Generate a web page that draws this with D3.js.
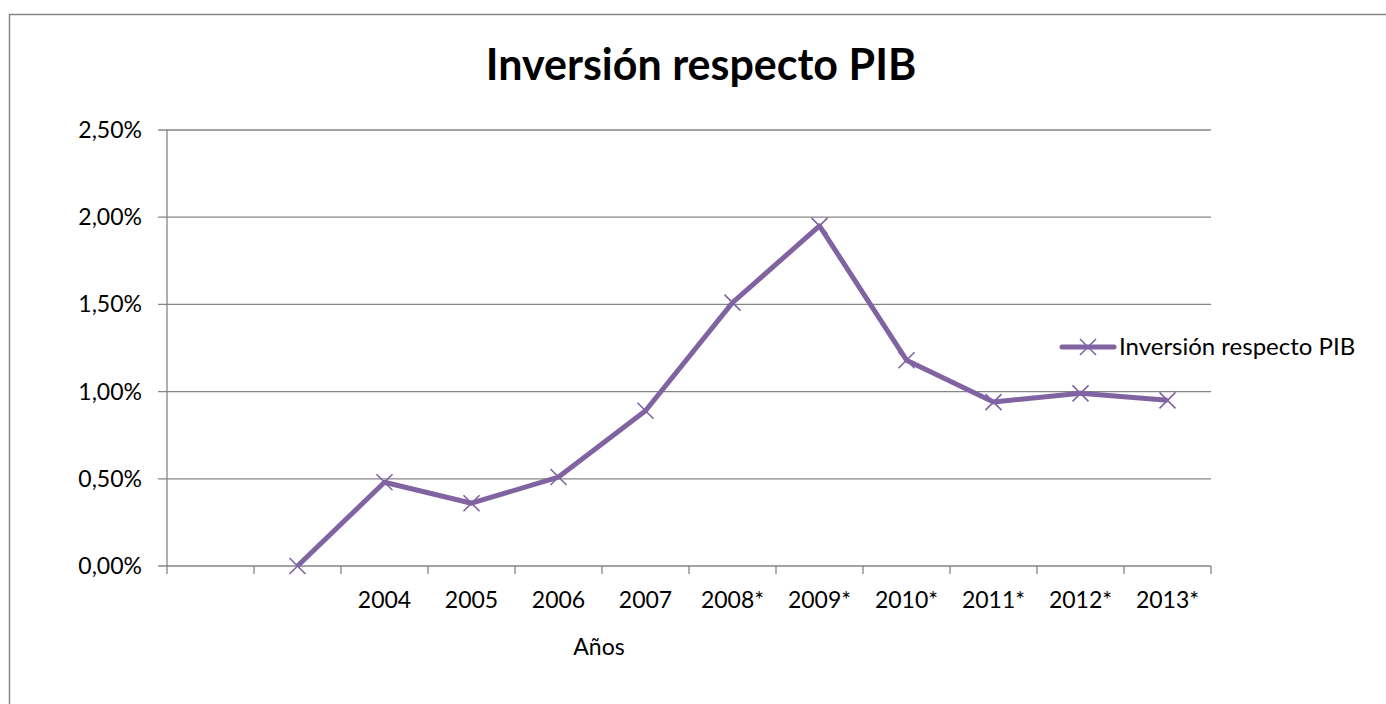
<!DOCTYPE html>
<html>
<head>
<meta charset="utf-8">
<script src="https://cdn.jsdelivr.net/npm/d3@7"></script>
<style>
  body { margin: 0; background: #fff; }
  text { font-family: Lato, "Open Sans", sans-serif; fill: #000; }
</style>
</head>
<body>
<svg id="chart" width="1386" height="704"></svg>
<script>
// data
var slots      = [0, 1, 2, 3, 4, 5, 6, 7, 8, 9, 10, 11];
var tickLabels = ["", "", "2004", "2005", "2006", "2007", "2008*", "2009*", "2010*", "2011*", "2012*", "2013*"];
var values     = [null, 0.0, 0.48, 0.36, 0.51, 0.89, 1.51, 1.95, 1.18, 0.94, 0.99, 0.95];
var yTicks     = [0, 0.5, 1.0, 1.5, 2.0, 2.5];
var seriesName = "Inversión respecto PIB";

var purple = "#8064a2", grey = "#868686";
var svg = d3.select("#chart");

// outer chart border
svg.append("rect")
  .attr("x", 9.5).attr("y", 14.5)
  .attr("width", 1400).attr("height", 720)
  .attr("fill", "none").attr("stroke", grey).attr("stroke-width", 1.5);

var plotL = 167, plotR = 1211, plotT = 130, plotB = 566;

var x = d3.scaleBand().domain(slots).range([plotL, plotR]).padding(0);
var y = d3.scaleLinear().domain([0, 2.5]).range([plotB, plotT]);

var fmt = function(d) { return d.toFixed(2).replace(".", ",") + "%"; };

// gridlines
svg.append("g").selectAll("line")
  .data(yTicks).enter().append("line")
    .attr("x1", plotL - 9).attr("x2", plotR)
    .attr("y1", function(d) { return y(d); })
    .attr("y2", function(d) { return y(d); })
    .attr("stroke", grey).attr("stroke-width", 1.3);

// y axis line + labels
svg.append("line")
  .attr("x1", plotL).attr("x2", plotL).attr("y1", plotT).attr("y2", plotB)
  .attr("stroke", grey).attr("stroke-width", 1.3);

svg.append("g").selectAll("text")
  .data(yTicks).enter().append("text")
    .attr("x", plotL - 25)
    .attr("y", function(d) { return y(d); })
    .attr("dy", "0.35em")
    .attr("text-anchor", "end")
    .style("font-size", "23px")
    .text(fmt);

// x axis ticks at band edges
var edges = slots.map(function(s) { return x(s); }).concat([plotR]);
svg.append("g").selectAll("line")
  .data(edges).enter().append("line")
    .attr("x1", function(d) { return d; }).attr("x2", function(d) { return d; })
    .attr("y1", plotB).attr("y2", plotB + 8)
    .attr("stroke", grey).attr("stroke-width", 1.3);

svg.append("g").selectAll("text")
  .data(slots).enter().append("text")
    .attr("x", function(d) { return x(d) + x.bandwidth() / 2; })
    .attr("y", 608)
    .attr("text-anchor", "middle")
    .style("font-size", "23px")
    .text(function(d) { return tickLabels[d]; });

// axis title
svg.append("text")
  .attr("x", 599).attr("y", 655)
  .attr("text-anchor", "middle")
  .style("font-size", "23px")
  .text("Años");

// chart title
svg.append("text")
  .attr("x", 701).attr("y", 80)
  .attr("text-anchor", "middle")
  .style("font-size", "43px").style("font-weight", "bold")
  .text(seriesName);

// series line
var pts = slots.filter(function(s) { return values[s] !== null; });
var line = d3.line()
  .x(function(s) { return x(s) + x.bandwidth() / 2; })
  .y(function(s) { return y(values[s]); });

svg.append("path")
  .datum(pts)
  .attr("d", line)
  .attr("fill", "none").attr("stroke", purple)
  .attr("stroke-width", 5).attr("stroke-linejoin", "round");

// x markers
function cross(g, cx, cy) {
  var r = 8;
  g.append("path")
    .attr("d", "M" + (cx - r) + "," + (cy - r) + "L" + (cx + r) + "," + (cy + r) +
               "M" + (cx - r) + "," + (cy + r) + "L" + (cx + r) + "," + (cy - r))
    .attr("stroke", purple).attr("stroke-width", 1.6).attr("fill", "none");
}
var mk = svg.append("g");
pts.forEach(function(s) { cross(mk, x(s) + x.bandwidth() / 2, y(values[s])); });

// legend
var lg = svg.append("g");
lg.append("line")
  .attr("x1", 1062).attr("x2", 1114).attr("y1", 347).attr("y2", 347)
  .attr("stroke", purple).attr("stroke-width", 5).attr("stroke-linecap", "round");
cross(lg, 1088, 347);
lg.append("text")
  .attr("x", 1119).attr("y", 347).attr("dy", "0.35em")
  .style("font-size", "24px")
  .text(seriesName);
</script>
</body>
</html>
